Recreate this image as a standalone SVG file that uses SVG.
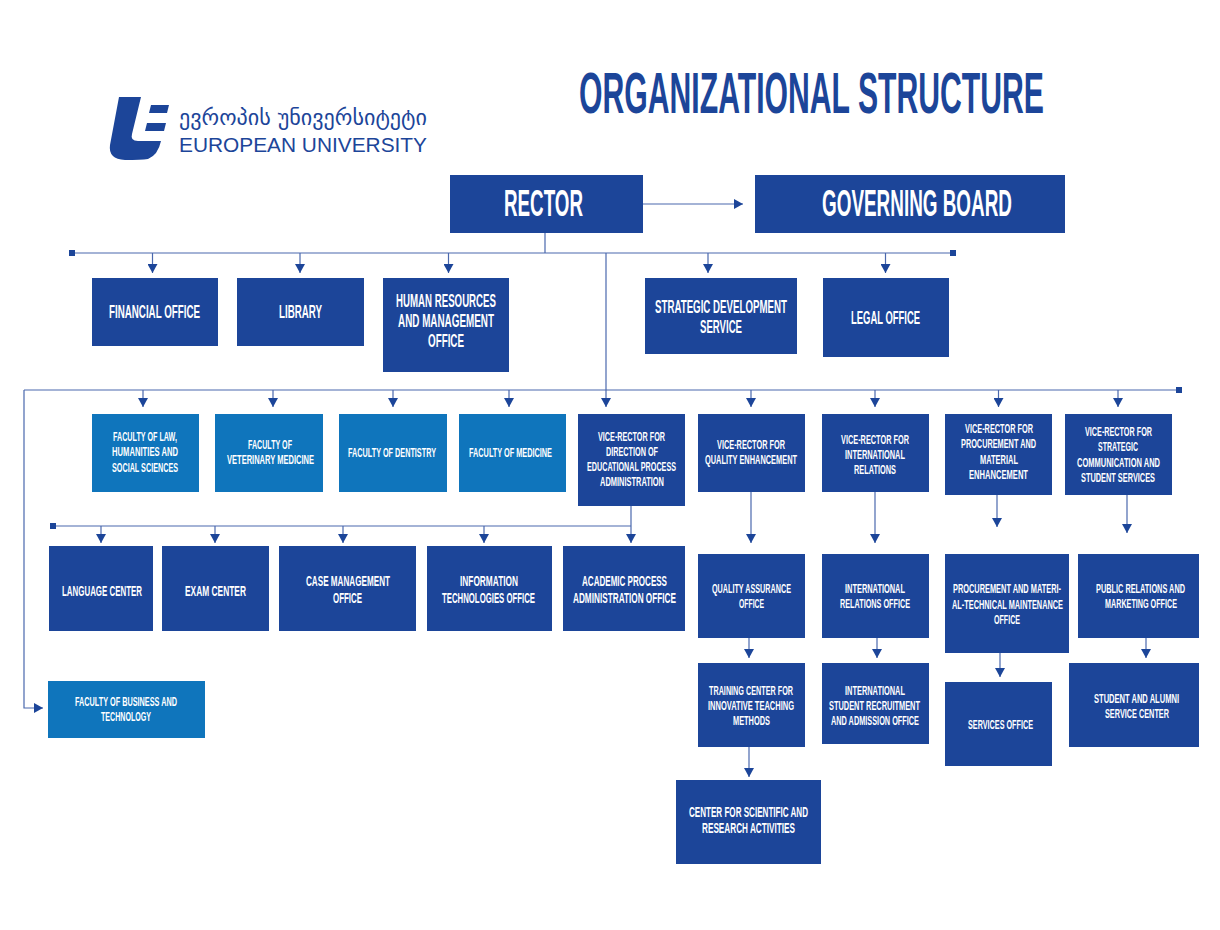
<svg xmlns="http://www.w3.org/2000/svg" width="1220" height="930" viewBox="0 0 1220 930">
<style>
.d{fill:#1c4599}.l{fill:#0f75bc}
text{font-family:"Liberation Sans Narrow","Liberation Sans",sans-serif;font-weight:700;fill:#fff}
.s{font-size:13px}.m{font-size:15px}.b{font-size:18px}.x{font-size:37px}
.c path{fill:none;stroke:#4a68ad;stroke-width:1.2}
.c .a{marker-end:url(#ah)}
</style>
<defs>
<marker id="ah" markerUnits="userSpaceOnUse" markerWidth="9" markerHeight="10" refX="9" refY="5" orient="auto"><path d="M0 0L9 5L0 10Z" fill="#1c4599" stroke="none"/></marker>
</defs>
<rect width="1220" height="930" fill="#fff"/>
<g id="logo">
<path class="d" d="M119 97H141L132 134Q130 141 138 141H161Q158 155 148 159Q141 160 125 160Q108 159 110 145Z"/>
<path class="d" d="M151 105H169L167 113H149ZM147 123H166L164 131H145Z"/>
<text x="179" y="125" textLength="248" lengthAdjust="spacingAndGlyphs" style="font-family:'DejaVu Sans',sans-serif;font-weight:400;font-size:21px;fill:#1c4599">ევროპის უნივერსიტეტი</text>
<text x="179" y="152" textLength="248" lengthAdjust="spacingAndGlyphs" style="font-family:'Liberation Sans',sans-serif;font-weight:400;font-size:21px;fill:#1c4599">EUROPEAN UNIVERSITY</text>
</g>
<text id="title" x="579" y="113" textLength="465" lengthAdjust="spacingAndGlyphs" style="font-size:57px;fill:#1c4599">ORGANIZATIONAL STRUCTURE</text>
<g class="c" id="connectors">
<path class="a" d="M643 204H743"/>
<path d="M545 233V253M72 253H953M24 390H1179M53 526H631"/>
<path class="a" d="M152.500 253V273"/><path class="a" d="M300 253V273"/><path class="a" d="M448.500 253V273"/><path class="a" d="M708 253V273"/><path class="a" d="M885.500 253V273"/>
<path class="a" d="M606 253V407"/>
<path class="a" d="M143 390V407"/><path class="a" d="M273 390V407"/><path class="a" d="M393 390V407"/><path class="a" d="M509 390V407"/><path class="a" d="M751 390V407"/><path class="a" d="M875 390V407"/><path class="a" d="M998.500 390V407"/><path class="a" d="M1118 390V407"/>
<path class="a" d="M24 390V708H43"/>
<path class="a" d="M631 506V543"/>
<path class="a" d="M101 526V543"/><path class="a" d="M215 526V543"/><path class="a" d="M343 526V543"/><path class="a" d="M484 526V543"/>
<path class="a" d="M751 492V543"/><path class="a" d="M875 492V543"/><path class="a" d="M997 495V527"/><path class="a" d="M1127 495V533"/>
<path class="a" d="M749 638V658"/><path class="a" d="M877 638V658"/><path class="a" d="M1000 653V677"/><path class="a" d="M1146 638V658"/><path class="a" d="M749 747V777"/>
<rect x="69" y="250" width="6" height="6" class="d"/><rect x="950" y="250" width="6" height="6" class="d"/><rect x="1176" y="387" width="6" height="6" class="d"/><rect x="50" y="523" width="6" height="6" class="d"/>
</g>
<g id="rector"><rect class="d" x="450" y="175" width="193" height="58"/><text class="x" x="504" y="216" textLength="79" lengthAdjust="spacingAndGlyphs">RECTOR</text></g>
<g id="board"><rect class="d" x="755" y="175" width="310" height="58"/><text class="x" x="822" y="216" textLength="190" lengthAdjust="spacingAndGlyphs">GOVERNING BOARD</text></g>
<g id="financial"><rect class="d" x="92" y="278" width="126" height="68"/><text class="b" x="109" y="318" textLength="91" lengthAdjust="spacingAndGlyphs">FINANCIAL OFFICE</text></g>
<g id="library"><rect class="d" x="237" y="278" width="127" height="68"/><text class="b" x="279" y="318" textLength="43" lengthAdjust="spacingAndGlyphs">LIBRARY</text></g>
<g id="hr"><rect class="d" x="383" y="278" width="126" height="94"/><text class="b" x="396" y="307" textLength="100" lengthAdjust="spacingAndGlyphs">HUMAN RESOURCES</text><text class="b" x="398" y="327" textLength="96" lengthAdjust="spacingAndGlyphs">AND MANAGEMENT</text><text class="b" x="428" y="347" textLength="36" lengthAdjust="spacingAndGlyphs">OFFICE</text></g>
<g id="strategic"><rect class="d" x="645" y="278" width="152" height="76"/><text class="b" x="655" y="313" textLength="132" lengthAdjust="spacingAndGlyphs">STRATEGIC DEVELOPMENT</text><text class="b" x="700" y="333" textLength="42" lengthAdjust="spacingAndGlyphs">SERVICE</text></g>
<g id="legal"><rect class="d" x="823" y="278" width="126" height="79"/><text class="b" x="851" y="324" textLength="69" lengthAdjust="spacingAndGlyphs">LEGAL OFFICE</text></g>
<g id="f-law"><rect class="l" x="92" y="414" width="107" height="78"/><text class="s" x="113" y="441" textLength="64" lengthAdjust="spacingAndGlyphs">FACULTY OF LAW,</text><text class="s" x="112" y="456" textLength="66" lengthAdjust="spacingAndGlyphs">HUMANITIES AND</text><text class="s" x="112" y="472" textLength="66" lengthAdjust="spacingAndGlyphs">SOCIAL SCIENCES</text></g>
<g id="f-vet"><rect class="l" x="215" y="414" width="108" height="78"/><text class="s" x="248" y="449" textLength="44" lengthAdjust="spacingAndGlyphs">FACULTY OF</text><text class="s" x="227" y="464" textLength="87" lengthAdjust="spacingAndGlyphs">VETERINARY MEDICINE</text></g>
<g id="f-dent"><rect class="l" x="339" y="414" width="108" height="78"/><text class="s" x="348" y="457" textLength="88" lengthAdjust="spacingAndGlyphs">FACULTY OF DENTISTRY</text></g>
<g id="f-med"><rect class="l" x="459" y="414" width="107" height="78"/><text class="s" x="469" y="457" textLength="83" lengthAdjust="spacingAndGlyphs">FACULTY OF MEDICINE</text></g>
<g id="vr-edu"><rect class="d" x="578" y="414" width="107" height="92"/><text class="s" x="598" y="441" textLength="67" lengthAdjust="spacingAndGlyphs">VICE-RECTOR FOR</text><text class="s" x="606" y="456" textLength="52" lengthAdjust="spacingAndGlyphs">DIRECTION OF</text><text class="s" x="587" y="471" textLength="89" lengthAdjust="spacingAndGlyphs">EDUCATIONAL PROCESS</text><text class="s" x="600" y="486" textLength="64" lengthAdjust="spacingAndGlyphs">ADMINISTRATION</text></g>
<g id="vr-qual"><rect class="d" x="698" y="414" width="107" height="78"/><text class="s" x="717" y="449" textLength="68" lengthAdjust="spacingAndGlyphs">VICE-RECTOR FOR</text><text class="s" x="705" y="464" textLength="92" lengthAdjust="spacingAndGlyphs">QUALITY ENHANCEMENT</text></g>
<g id="vr-int"><rect class="d" x="822" y="414" width="107" height="78"/><text class="s" x="841" y="444" textLength="68" lengthAdjust="spacingAndGlyphs">VICE-RECTOR FOR</text><text class="s" x="845" y="459" textLength="60" lengthAdjust="spacingAndGlyphs">INTERNATIONAL</text><text class="s" x="854" y="474" textLength="42" lengthAdjust="spacingAndGlyphs">RELATIONS</text></g>
<g id="vr-proc"><rect class="d" x="945" y="414" width="107" height="81"/><text class="s" x="965" y="433" textLength="68" lengthAdjust="spacingAndGlyphs">VICE-RECTOR FOR</text><text class="s" x="961" y="448" textLength="75" lengthAdjust="spacingAndGlyphs">PROCUREMENT AND</text><text class="s" x="980" y="464" textLength="38" lengthAdjust="spacingAndGlyphs">MATERIAL</text><text class="s" x="969" y="479" textLength="59" lengthAdjust="spacingAndGlyphs">ENHANCEMENT</text></g>
<g id="vr-comm"><rect class="d" x="1065" y="414" width="107" height="81"/><text class="s" x="1085" y="436" textLength="67" lengthAdjust="spacingAndGlyphs">VICE-RECTOR FOR</text><text class="s" x="1098" y="451" textLength="40" lengthAdjust="spacingAndGlyphs">STRATEGIC</text><text class="s" x="1077" y="467" textLength="83" lengthAdjust="spacingAndGlyphs">COMMUNICATION AND</text><text class="s" x="1081" y="482" textLength="74" lengthAdjust="spacingAndGlyphs">STUDENT SERVICES</text></g>
<g id="lang"><rect class="d" x="49" y="546" width="104" height="85"/><text class="m" x="62" y="596" textLength="80" lengthAdjust="spacingAndGlyphs">LANGUAGE CENTER</text></g>
<g id="exam"><rect class="d" x="162" y="546" width="107" height="85"/><text class="m" x="185" y="596" textLength="61" lengthAdjust="spacingAndGlyphs">EXAM CENTER</text></g>
<g id="case"><rect class="d" x="279" y="546" width="137" height="85"/><text class="m" x="306" y="586" textLength="84" lengthAdjust="spacingAndGlyphs">CASE MANAGEMENT</text><text class="m" x="333" y="603" textLength="29" lengthAdjust="spacingAndGlyphs">OFFICE</text></g>
<g id="it"><rect class="d" x="427" y="546" width="125" height="85"/><text class="m" x="460" y="586" textLength="58" lengthAdjust="spacingAndGlyphs">INFORMATION</text><text class="m" x="442" y="603" textLength="93" lengthAdjust="spacingAndGlyphs">TECHNOLOGIES OFFICE</text></g>
<g id="acad"><rect class="d" x="563" y="546" width="122" height="85"/><text class="m" x="582" y="586" textLength="85" lengthAdjust="spacingAndGlyphs">ACADEMIC PROCESS</text><text class="m" x="573" y="603" textLength="103" lengthAdjust="spacingAndGlyphs">ADMINISTRATION OFFICE</text></g>
<g id="qa"><rect class="d" x="698" y="554" width="107" height="84"/><text class="s" x="712" y="593" textLength="79" lengthAdjust="spacingAndGlyphs">QUALITY ASSURANCE</text><text class="s" x="739" y="608" textLength="25" lengthAdjust="spacingAndGlyphs">OFFICE</text></g>
<g id="iro"><rect class="d" x="822" y="554" width="107" height="84"/><text class="s" x="845" y="593" textLength="60" lengthAdjust="spacingAndGlyphs">INTERNATIONAL</text><text class="s" x="840" y="608" textLength="70" lengthAdjust="spacingAndGlyphs">RELATIONS OFFICE</text></g>
<g id="pmo"><rect class="d" x="945" y="554" width="124" height="99"/><text class="s" x="953" y="593" textLength="108" lengthAdjust="spacingAndGlyphs">PROCUREMENT AND MATERI-</text><text class="s" x="952" y="609" textLength="111" lengthAdjust="spacingAndGlyphs">AL-TECHNICAL MAINTENANCE</text><text class="s" x="994" y="624" textLength="26" lengthAdjust="spacingAndGlyphs">OFFICE</text></g>
<g id="pr"><rect class="d" x="1078" y="554" width="121" height="84"/><text class="s" x="1096" y="593" textLength="89" lengthAdjust="spacingAndGlyphs">PUBLIC RELATIONS AND</text><text class="s" x="1105" y="608" textLength="72" lengthAdjust="spacingAndGlyphs">MARKETING OFFICE</text></g>
<g id="f-bus"><rect class="l" x="48" y="681" width="157" height="57"/><text class="s" x="75" y="706" textLength="102" lengthAdjust="spacingAndGlyphs">FACULTY OF BUSINESS AND</text><text class="s" x="101" y="721" textLength="50" lengthAdjust="spacingAndGlyphs">TECHNOLOGY</text></g>
<g id="train"><rect class="d" x="698" y="663" width="107" height="84"/><text class="s" x="709" y="695" textLength="84" lengthAdjust="spacingAndGlyphs">TRAINING CENTER FOR</text><text class="s" x="708" y="710" textLength="86" lengthAdjust="spacingAndGlyphs">INNOVATIVE TEACHING</text><text class="s" x="733" y="725" textLength="37" lengthAdjust="spacingAndGlyphs">METHODS</text></g>
<g id="recruit"><rect class="d" x="822" y="663" width="107" height="81"/><text class="s" x="845" y="695" textLength="60" lengthAdjust="spacingAndGlyphs">INTERNATIONAL</text><text class="s" x="829" y="710" textLength="91" lengthAdjust="spacingAndGlyphs">STUDENT RECRUITMENT</text><text class="s" x="831" y="725" textLength="88" lengthAdjust="spacingAndGlyphs">AND ADMISSION OFFICE</text></g>
<g id="services"><rect class="d" x="945" y="682" width="107" height="84"/><text class="s" x="968" y="729" textLength="65" lengthAdjust="spacingAndGlyphs">SERVICES OFFICE</text></g>
<g id="alumni"><rect class="d" x="1069" y="663" width="130" height="84"/><text class="s" x="1094" y="703" textLength="85" lengthAdjust="spacingAndGlyphs">STUDENT AND ALUMNI</text><text class="s" x="1105" y="718" textLength="64" lengthAdjust="spacingAndGlyphs">SERVICE CENTER</text></g>
<g id="science"><rect class="d" x="676" y="780" width="145" height="84"/><text class="m" x="689" y="817" textLength="119" lengthAdjust="spacingAndGlyphs">CENTER FOR SCIENTIFIC AND</text><text class="m" x="702" y="833" textLength="93" lengthAdjust="spacingAndGlyphs">RESEARCH ACTIVITIES</text></g>
</svg>
